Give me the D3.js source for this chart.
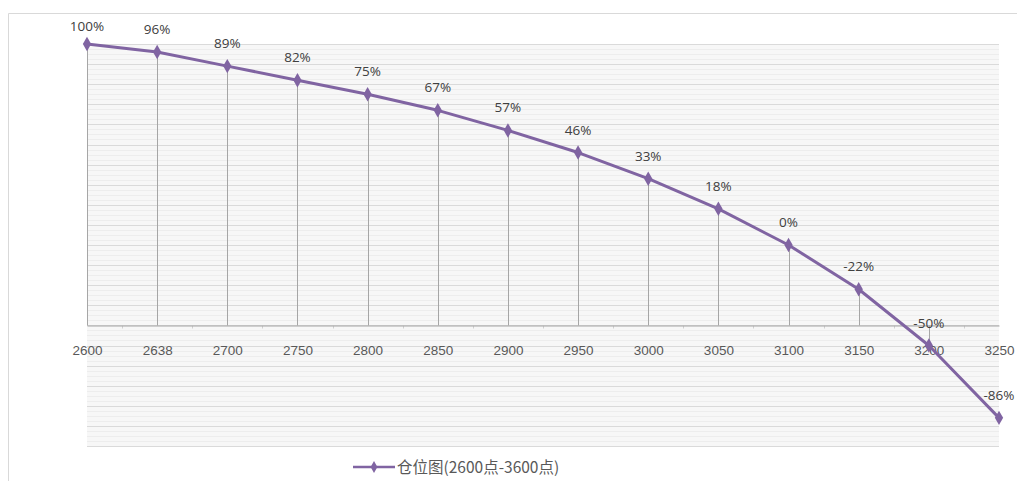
<!DOCTYPE html>
<html>
<head>
<meta charset="utf-8">
<script src="https://cdn.jsdelivr.net/npm/d3@7/dist/d3.min.js"></script>
<style>
  body { margin: 0; background: #fff; }
  svg { display: block; font-family: "Open Sans", "Noto Sans CJK SC", sans-serif; }
</style>
</head>
<body>
<svg id="chart" width="1017" height="481"></svg>
<script>
// category labels (points on the x axis)
var categories = ["2600", "2638", "2700", "2750", "2800", "2850", "2900",
                  "2950", "3000", "3050", "3100", "3150", "3200", "3250"];
// position in percent
var values = [100, 96, 89, 82, 75, 67, 57, 46, 33, 18, 0, -22, -50, -86];
var seriesName = "仓位图(2600点-3600点)";
var yDomain = [-100, 100];
var axisCross = -40;   // horizontal axis crosses the value axis here

var svg = d3.select("#chart");
var purple = "#8064a2";

// chart frame
svg.append("path")
  .attr("d", "M8.5,481 V13.5 H1017")
  .style("fill", "none")
  .style("stroke", "#d9d9d9");

var x = d3.scalePoint().domain(categories).range([87, 999]);
var y = d3.scaleLinear().domain(yDomain).range([446, 44]);

// keep drop lines inside the plot area
svg.append("clipPath").attr("id", "plotclip")
  .append("rect").attr("x", 80).attr("y", 0).attr("width", 918).attr("height", 481);

// plot area background
svg.append("rect")
  .attr("x", 87).attr("y", y(100))
  .attr("width", 999 - 87).attr("height", y(-100) - y(100))
  .style("fill", "#f7f7f7");

// minor gridlines
svg.append("g")
  .selectAll("line")
  .data(d3.range(-100, 100.1, 2.5))
  .enter().append("line")
  .attr("x1", 87).attr("x2", 999)
  .attr("y1", function (d) { return Math.round(y(d)) + 0.5; })
  .attr("y2", function (d) { return Math.round(y(d)) + 0.5; })
  .style("stroke", "#ededed");

// major gridlines
svg.append("g")
  .selectAll("line")
  .data(d3.range(-100, 100.1, 10))
  .enter().append("line")
  .attr("x1", 87).attr("x2", 999)
  .attr("y1", function (d) { return Math.round(y(d)) + 0.5; })
  .attr("y2", function (d) { return Math.round(y(d)) + 0.5; })
  .style("stroke", "#dadada");

var axisY = Math.round(y(axisCross)) + 0.5;

// drop lines from each point to the category axis
svg.append("g")
  .attr("clip-path", "url(#plotclip)")
  .selectAll("line")
  .data(values)
  .enter().append("line")
  .attr("x1", function (d, i) { return Math.round(x(categories[i])) + 0.5; })
  .attr("x2", function (d, i) { return Math.round(x(categories[i])) + 0.5; })
  .attr("y1", function (d) { return y(d); })
  .attr("y2", axisY)
  .style("stroke", "#a6a6a6");

// small ticks between categories
var step = x.step();
svg.append("g")
  .selectAll("line")
  .data(categories.slice(1))
  .enter().append("line")
  .attr("x1", function (d) { return Math.round(x(d) - step / 2) + 0.5; })
  .attr("x2", function (d) { return Math.round(x(d) - step / 2) + 0.5; })
  .attr("y1", axisY).attr("y2", axisY + 3)
  .style("stroke", "#d0d0d0");

// category axis
var xAxis = svg.append("g")
  .attr("transform", "translate(0," + axisY + ")")
  .call(d3.axisBottom(x).tickSize(0).tickPadding(20));
xAxis.select(".domain").style("stroke", "#a6a6a6");
xAxis.selectAll("text")
  .style("font-size", "13.5px")
  .style("fill", "#595959");

// the series line
var line = d3.line()
  .x(function (d, i) { return x(categories[i]); })
  .y(function (d) { return y(d); });

svg.append("path")
  .datum(values)
  .attr("d", line)
  .style("fill", "none")
  .style("stroke", purple)
  .style("stroke-width", 3)
  .style("stroke-linejoin", "round");

// diamond markers
var diamond = d3.symbol().type(d3.symbolDiamond).size(60);
svg.append("g")
  .selectAll("path")
  .data(values)
  .enter().append("path")
  .attr("d", diamond)
  .attr("transform", function (d, i) {
    return "translate(" + x(categories[i]) + "," + y(d) + ")";
  })
  .style("fill", purple);

// data labels
svg.append("g")
  .selectAll("text")
  .data(values)
  .enter().append("text")
  .attr("x", function (d, i) { return x(categories[i]); })
  .attr("y", function (d) { return Math.max(y(d) - 18, 31); })
  .attr("text-anchor", "middle")
  .style("font-size", "13.5px")
  .style("fill", "#404040")
  .text(function (d) { return d + "%"; });

// legend
var legend = svg.append("g").attr("transform", "translate(353,467)");
legend.append("line")
  .attr("x1", 0).attr("x2", 42)
  .style("stroke", purple)
  .style("stroke-width", 2.5);
legend.append("path")
  .attr("d", d3.symbol().type(d3.symbolDiamond).size(40))
  .attr("transform", "translate(21,0)")
  .style("fill", purple);
legend.append("text")
  .attr("x", 44).attr("y", 5.5)
  .style("font-size", "15.5px")
  .style("font-family", "'Noto Sans CJK SC', sans-serif")
  .style("fill", "#595959")
  .text(seriesName);
</script>
</body>
</html>
